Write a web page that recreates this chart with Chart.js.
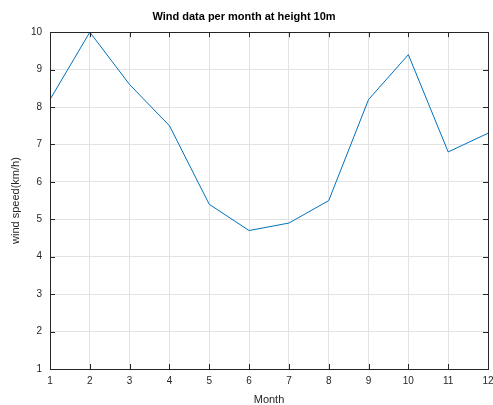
<!DOCTYPE html>
<html>
<head>
<meta charset="utf-8">
<script src="https://cdn.jsdelivr.net/npm/chart.js@4/dist/chart.umd.min.js"></script>
<style>
  body { margin: 0; background: #fff; }
  #wrap { width: 493px; height: 405px; }
</style>
</head>
<body>
<div id="wrap"><canvas id="windChart" width="493" height="405"></canvas></div>
<script>
// wind speed per month
const months = [1, 2, 3, 4, 5, 6, 7, 8, 9, 10, 11, 12];
const windSpeed = [8.2, 10, 8.6, 7.5, 5.4, 4.7, 4.9, 5.5, 8.2, 9.4, 6.8, 7.3];
const yTicks = [1, 2, 3, 4, 5, 6, 7, 8, 9, 10];

const FONT = 'Liberation Sans, Arial, Helvetica, sans-serif';
const TXT = '#262626';

// matlab style box with inward ticks
const boxPlugin = {
  id: 'box',
  afterDraw(chart) {
    const { ctx, chartArea: a, scales } = chart;
    const len = 5;
    ctx.save();
    ctx.strokeStyle = '#262626';
    ctx.lineWidth = 1;
    ctx.beginPath();
    months.forEach(m => {
      const x = Math.round(scales.x.getPixelForValue(m)) + 0.5;
      ctx.moveTo(x, a.bottom); ctx.lineTo(x, a.bottom - len);
      ctx.moveTo(x, a.top); ctx.lineTo(x, a.top + len);
    });
    yTicks.forEach(v => {
      const y = Math.round(scales.y.getPixelForValue(v)) + 0.5;
      ctx.moveTo(a.left, y); ctx.lineTo(a.left + len, y);
      ctx.moveTo(a.right, y); ctx.lineTo(a.right - len, y);
    });
    ctx.stroke();
    ctx.strokeRect(Math.round(a.left) + 0.5, Math.round(a.top) + 0.5,
      Math.round(a.right - a.left), Math.round(a.bottom - a.top));
    ctx.restore();
  }
};

new Chart(document.getElementById('windChart'), {
  type: 'line',
  data: {
    datasets: [{
      data: months.map((m, i) => ({ x: m, y: windSpeed[i] })),
      borderColor: '#0072BD',
      borderWidth: 1,
      pointRadius: 0,
      tension: 0,
      fill: false
    }]
  },
  options: {
    responsive: false,
    animation: false,
    devicePixelRatio: 1,
    layout: { padding: { left: 0, right: 5, top: 0, bottom: 0 } },
    plugins: {
      legend: { display: false },
      tooltip: { enabled: false },
      title: {
        display: true,
        text: 'Wind data per month at height 10m',
        color: '#000',
        font: { family: FONT, size: 11, weight: 'bold' },
        padding: { top: 10, bottom: 9 }
      }
    },
    scales: {
      x: {
        type: 'linear',
        min: 1,
        max: 12,
        afterBuildTicks(scale) { scale.ticks = months.map(v => ({ value: v })); },
        afterFit(scale) { scale.height = 36; scale.paddingLeft = 0; scale.paddingRight = 0; },
        ticks: { color: TXT, font: { family: FONT, size: 10 }, padding: 6, maxRotation: 0 },
        grid: { color: '#e3e3e3', drawTicks: false },
        border: { display: false },
        title: {
          display: true,
          text: 'Month',
          color: TXT,
          font: { family: FONT, size: 11 },
          padding: { top: 4, bottom: -2 }
        }
      },
      y: {
        min: 1,
        max: 10,
        afterBuildTicks(scale) { scale.ticks = yTicks.map(v => ({ value: v })); },
        afterFit(scale) { scale.width = 50; scale.paddingTop = 0; scale.paddingBottom = 0; },
        ticks: { color: TXT, font: { family: FONT, size: 10 }, padding: 8 },
        grid: { color: '#e3e3e3', drawTicks: false },
        border: { display: false },
        title: {
          display: true,
          text: 'wind speed(km/h)',
          color: TXT,
          font: { family: FONT, size: 11 },
          padding: { top: 9, bottom: 0 }
        }
      }
    }
  },
  plugins: [boxPlugin]
});
</script>
</body>
</html>
